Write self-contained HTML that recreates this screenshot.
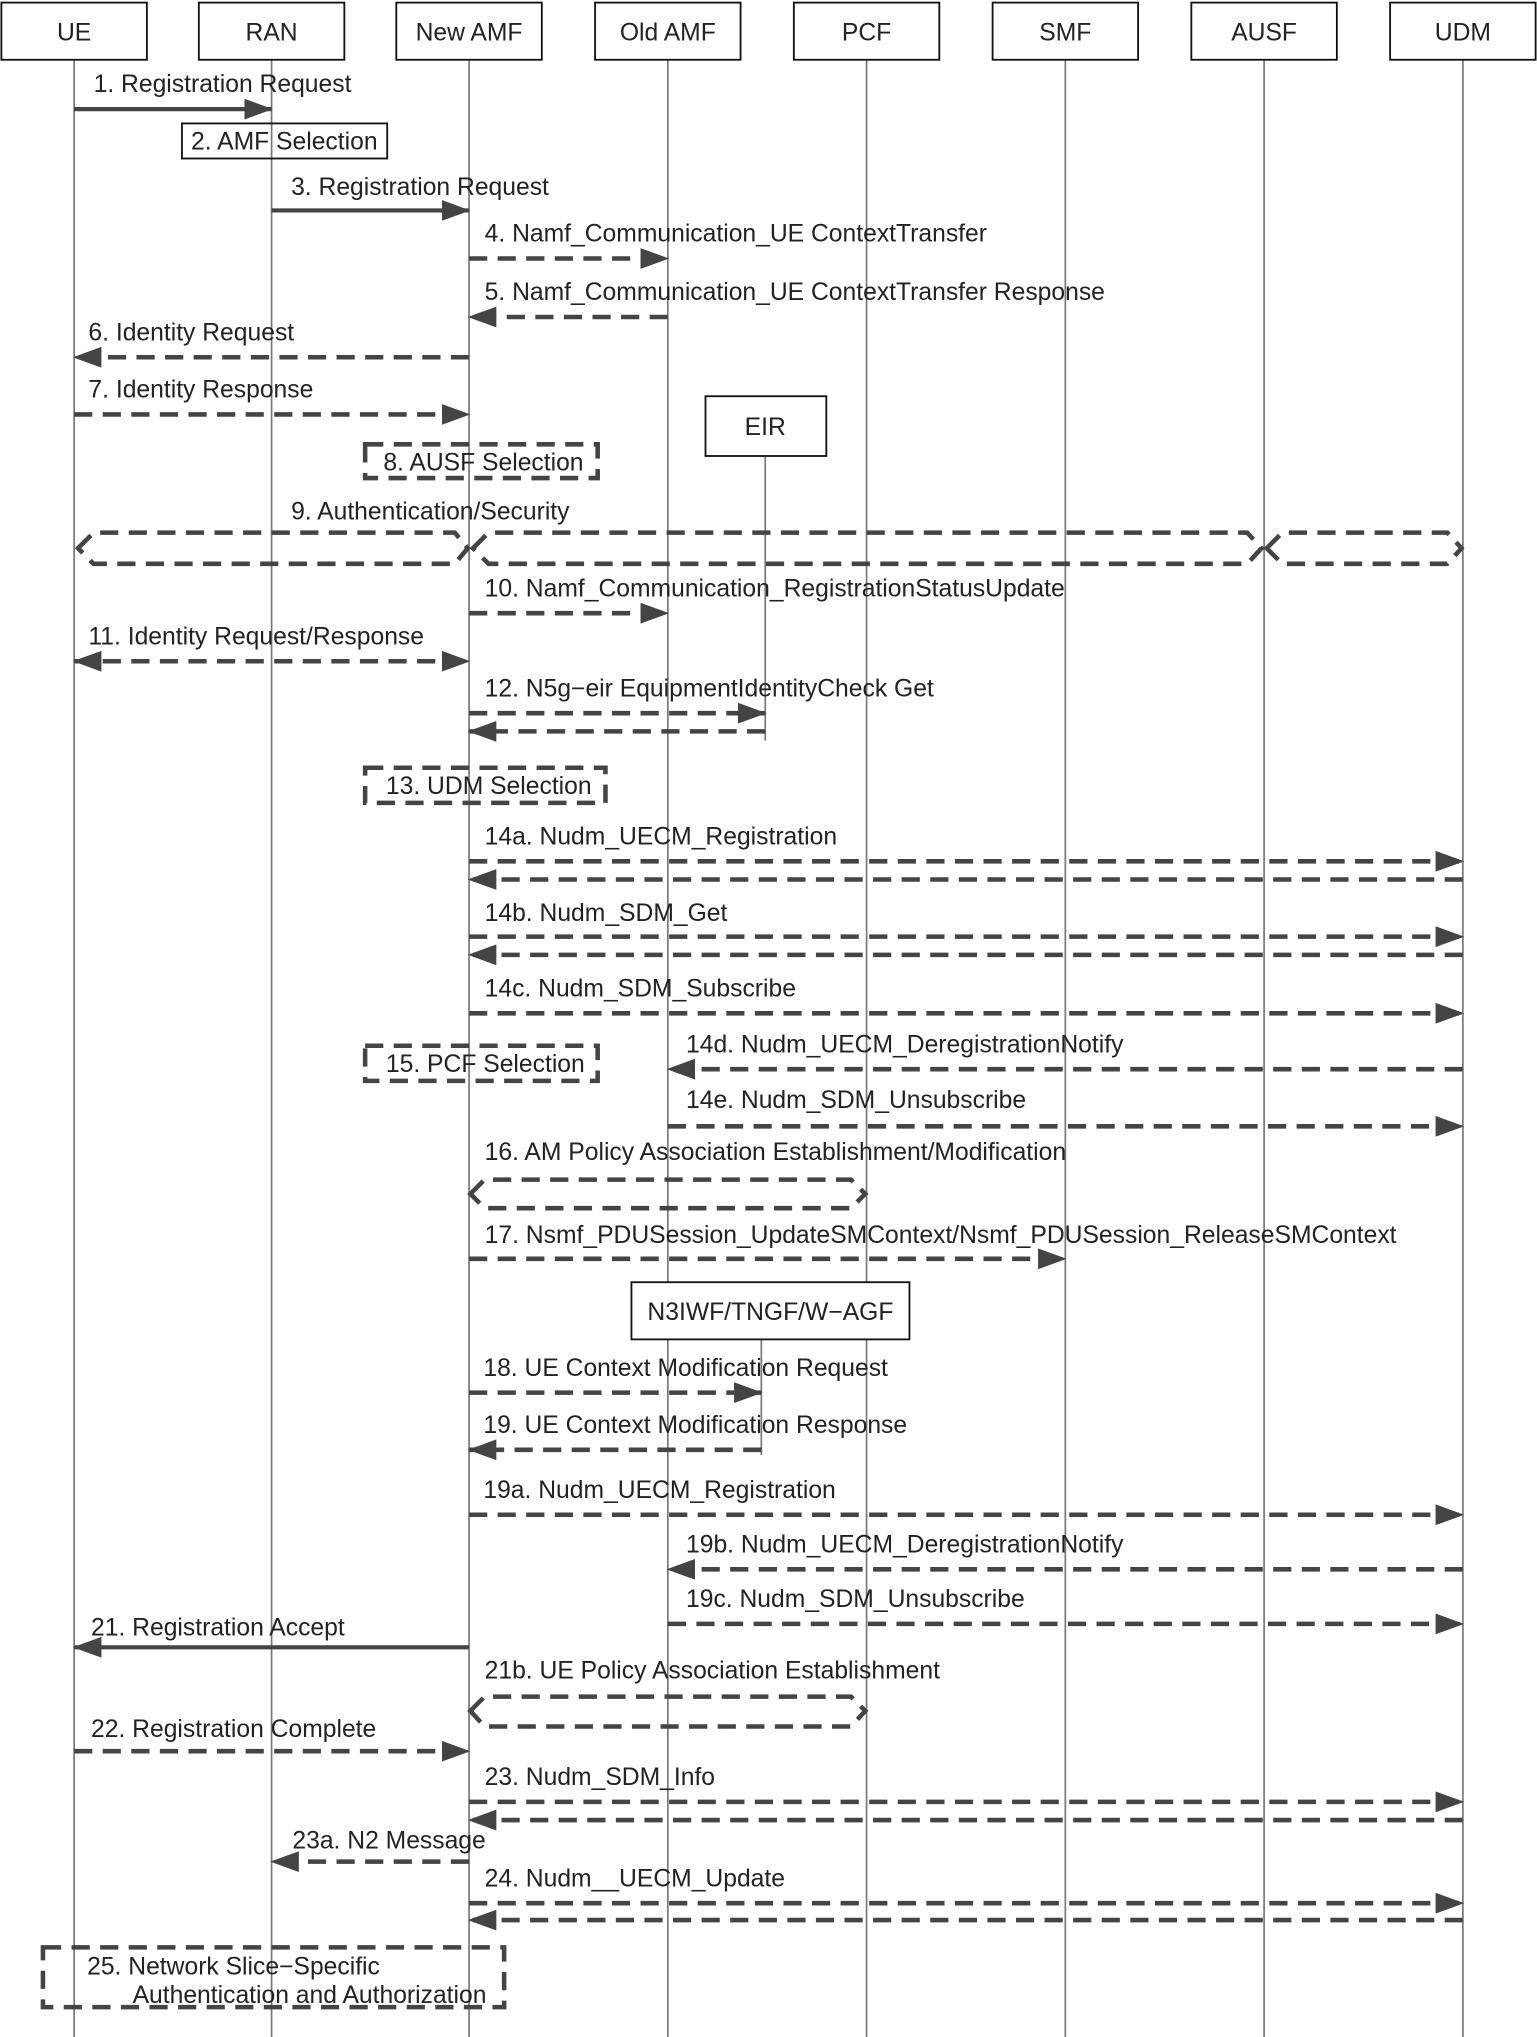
<!DOCTYPE html>
<html><head><meta charset="utf-8"><style>
html,body{margin:0;padding:0;background:#fff;}
svg{display:block;}
text{font-family:"Liberation Sans",sans-serif;font-size:19px;fill:#222;}
.ll{stroke:#777;stroke-width:1.3;}
.hb{fill:#fff;stroke:#111;stroke-width:1.4;}
.s{stroke:#444;stroke-width:3.2;fill:none;marker-end:url(#a);}
.d{stroke:#444;stroke-width:3.5;fill:none;stroke-dasharray:14 8;marker-end:url(#a);}
.b{marker-start:url(#a);}
.db{stroke:#444;stroke-width:3.5;fill:none;stroke-dasharray:14 8;}
</style></head><body>
<svg width="1537" height="2037" viewBox="0 0 1183 1568" xmlns="http://www.w3.org/2000/svg">
<defs><marker id="a" markerWidth="22" markerHeight="16" refX="21" refY="8" orient="auto-start-reverse" markerUnits="userSpaceOnUse"><path d="M0,0L22,8L0,16z" fill="#444"/></marker></defs>
<g class="ll">
<line x1="57" y1="46" x2="57" y2="1568"/><line x1="209" y1="46" x2="209" y2="1568"/>
<line x1="361" y1="46" x2="361" y2="1568"/><line x1="514" y1="46" x2="514" y2="1568"/>
<line x1="667" y1="46" x2="667" y2="1568"/><line x1="820" y1="46" x2="820" y2="1568"/>
<line x1="973" y1="46" x2="973" y2="1568"/><line x1="1126" y1="46" x2="1126" y2="1568"/>
<line x1="589" y1="351" x2="589" y2="570"/><line x1="586" y1="1031" x2="586" y2="1120"/>
</g>
<g class="hb">
<rect x="1" y="2" width="112" height="44"/><rect x="153" y="2" width="112" height="44"/>
<rect x="305" y="2" width="112" height="44"/><rect x="458" y="2" width="112" height="44"/>
<rect x="611" y="2" width="112" height="44"/><rect x="764" y="2" width="112" height="44"/>
<rect x="917" y="2" width="112" height="44"/><rect x="1070" y="2" width="112" height="44"/>
<rect x="543" y="305" width="93" height="46"/><rect x="486" y="987" width="214" height="44"/>
</g>
<g text-anchor="middle">
<text x="57" y="31">UE</text><text x="209" y="31">RAN</text><text x="361" y="31">New AMF</text>
<text x="514" y="31">Old AMF</text><text x="667" y="31">PCF</text><text x="820" y="31">SMF</text>
<text x="973" y="31">AUSF</text><text x="1126" y="31">UDM</text>
<text x="589" y="335">EIR</text><text x="593" y="1016">N3IWF/TNGF/W−AGF</text>
</g>
<rect x="140" y="95" width="158" height="27" fill="none" stroke="#111" stroke-width="1.4"/>
<rect class="db" x="281" y="342" width="179" height="26"/>
<rect class="db" x="281" y="591" width="185" height="27"/>
<rect class="db" x="281" y="805" width="179" height="27"/>
<rect class="db" x="33" y="1499" width="355" height="46"/>
<path class="db" d="M60,422L72,410H350L360,422L350,434H72Z"/>
<path class="db" d="M364,422L376,410H960L971,422L960,434H376Z"/>
<path class="db" d="M975,422L987,410H1114L1125,422L1114,434H987Z"/>
<path class="db" d="M362,919L373,908H655L666,919L655,930H373Z"/>
<path class="db" d="M362,1317L373,1306H655L666,1317L655,1329H373Z"/>
<line class="s" x1="57" y1="84" x2="209" y2="84"/>
<line class="s" x1="209" y1="162" x2="361" y2="162"/>
<line class="d" x1="361" y1="199" x2="514" y2="199"/>
<line class="d" x1="514" y1="244" x2="361" y2="244"/>
<line class="d" x1="361" y1="275" x2="57" y2="275"/>
<line class="d" x1="57" y1="319" x2="361" y2="319"/>
<line class="d" x1="361" y1="472" x2="514" y2="472"/>
<line class="d b" x1="57" y1="509" x2="361" y2="509"/>
<line class="d" x1="361" y1="549" x2="589" y2="549"/>
<line class="d" x1="589" y1="563" x2="361" y2="563"/>
<line class="d" x1="361" y1="663" x2="1126" y2="663"/>
<line class="d" x1="1126" y1="677" x2="361" y2="677"/>
<line class="d" x1="361" y1="721" x2="1126" y2="721"/>
<line class="d" x1="1126" y1="735" x2="361" y2="735"/>
<line class="d" x1="361" y1="780" x2="1126" y2="780"/>
<line class="d" x1="1126" y1="823" x2="514" y2="823"/>
<line class="d" x1="514" y1="867" x2="1126" y2="867"/>
<line class="d" x1="361" y1="969" x2="820" y2="969"/>
<line class="d" x1="361" y1="1072" x2="586" y2="1072"/>
<line class="d" x1="586" y1="1116" x2="361" y2="1116"/>
<line class="d" x1="361" y1="1166" x2="1126" y2="1166"/>
<line class="d" x1="1126" y1="1208" x2="514" y2="1208"/>
<line class="d" x1="514" y1="1250" x2="1126" y2="1250"/>
<line class="s" x1="361" y1="1268" x2="57" y2="1268"/>
<line class="d" x1="57" y1="1348" x2="361" y2="1348"/>
<line class="d" x1="361" y1="1387" x2="1126" y2="1387"/>
<line class="d" x1="1126" y1="1401" x2="361" y2="1401"/>
<line class="d" x1="361" y1="1433" x2="209" y2="1433"/>
<line class="d" x1="361" y1="1465" x2="1126" y2="1465"/>
<line class="d" x1="1126" y1="1478" x2="361" y2="1478"/>
<text x="72" y="71">1. Registration Request</text>
<text x="147" y="115">2. AMF Selection</text>
<text x="224" y="150">3. Registration Request</text>
<text x="373" y="186">4. Namf_Communication_UE ContextTransfer</text>
<text x="373" y="231">5. Namf_Communication_UE ContextTransfer Response</text>
<text x="68" y="262">6. Identity Request</text>
<text x="68" y="306">7. Identity Response</text>
<text x="295" y="362">8. AUSF Selection</text>
<text x="224" y="400">9. Authentication/Security</text>
<text x="373" y="459">10. Namf_Communication_RegistrationStatusUpdate</text>
<text x="68" y="496">11. Identity Request/Response</text>
<text x="373" y="536">12. N5g−eir EquipmentIdentityCheck Get</text>
<text x="297" y="611">13. UDM Selection</text>
<text x="373" y="650">14a. Nudm_UECM_Registration</text>
<text x="373" y="709">14b. Nudm_SDM_Get</text>
<text x="373" y="767">14c. Nudm_SDM_Subscribe</text>
<text x="297" y="825">15. PCF Selection</text>
<text x="528" y="810">14d. Nudm_UECM_DeregistrationNotify</text>
<text x="528" y="853">14e. Nudm_SDM_Unsubscribe</text>
<text x="373" y="893">16. AM Policy Association Establishment/Modification</text>
<text x="373" y="957">17. Nsmf_PDUSession_UpdateSMContext/Nsmf_PDUSession_ReleaseSMContext</text>
<text x="372" y="1059">18. UE Context Modification Request</text>
<text x="372" y="1103">19. UE Context Modification Response</text>
<text x="372" y="1153">19a. Nudm_UECM_Registration</text>
<text x="528" y="1195">19b. Nudm_UECM_DeregistrationNotify</text>
<text x="528" y="1237">19c. Nudm_SDM_Unsubscribe</text>
<text x="70" y="1259">21. Registration Accept</text>
<text x="373" y="1292">21b. UE Policy Association Establishment</text>
<text x="70" y="1337">22. Registration Complete</text>
<text x="373" y="1374">23. Nudm_SDM_Info</text>
<text x="225" y="1423">23a. N2 Message</text>
<text x="373" y="1452">24. Nudm__UECM_Update</text>
<text x="67" y="1520">25. Network Slice−Specific</text>
<text x="102" y="1542">Authentication and Authorization</text>
</svg>
</body></html>
